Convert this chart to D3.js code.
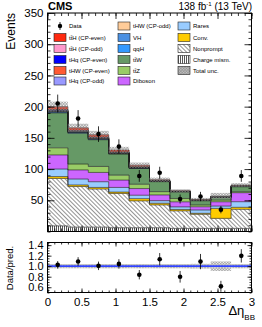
<!DOCTYPE html>
<html>
<head>
<meta charset="utf-8">
<script src="https://cdnjs.cloudflare.com/ajax/libs/d3/7.8.5/d3.min.js"></script>
<style>
  body { margin: 0; background: #fff; }
  svg { display: block; font-family: "Liberation Sans", Arial, sans-serif; }
</style>
</head>
<body>
<div id="container"></div>
<script>
let w = 262;
let h = 327;

// DATA
let binEdges = [0, 0.3, 0.6, 0.9, 1.2, 1.5, 1.8, 2.1, 2.4, 2.7, 3.0];
let dataCounts = [205, 181, 156, 136, 89, 94, 52, 56, 35, 89];

let chargeMism = [9, 7, 7, 6, 6, 6, 5, 5, 5, 5];
let nonprompt  = [76, 65, 61, 55, 43, 36.5, 28, 22.5, 16, 30.5];
let conv       = [3, 2.5, 2.6, 2.1, 3.6, 2.7, 2.3, 1.6, 16, 3.2];
let rares      = [12, 9.5, 9.1, 7.5, 5.5, 4.2, 4.1, 5.3, 3.7, 9];
let diboson    = [22.6, 14.6, 14.9, 11.7, 10.7, 9.1, 8.1, 5.2, 6.9, 14.4];
let ttZ        = [11.4, 9.4, 9.6, 8, 6.9, 5.3, 5.4, 2.8, 2.7, 1.6];
let ttW        = [56, 49.4, 42.8, 33.7, 25.2, 16, 10.6, 6.9, 4.3, 8];
let qqH        = [1.0, 0.9, 0.8, 0.7, 0.5, 0.3, 0.2, 0.2, 0.2, 0.3];
let VH         = [1.2, 1.0, 0.9, 0.7, 0.6, 0.4, 0.2, 0.3, 0.3, 0.3];
let tHWodd     = [0.3, 0.3, 0.2, 0.2, 0.2, 0.1, 0.1, 0.1, 0.1, 0.1];
let tHqodd     = [0.5, 0.4, 0.4, 0.3, 0.3, 0.2, 0.1, 0.1, 0.1, 0.2];
let tHWeven    = [0.5, 0.4, 0.4, 0.3, 0.2, 0.1, 0.1, 0.1, 0.1, 0.1];
let tHqeven    = [1.0, 0.8, 0.8, 0.6, 0.5, 0.3, 0.2, 0.2, 0.2, 0.2];
let ttHodd     = [1.0, 0.9, 0.8, 0.6, 0.5, 0.3, 0.1, 0.2, 0.2, 0.3];
let ttHeven    = [4.5, 3.9, 3.7, 3.0, 2.5, 1.5, 0.6, 1.0, 0.9, 1.2];

let relUnc = [0.04, 0.04, 0.04, 0.04, 0.04, 0.04, 0.04, 0.045, 0.09, 0.04];

let yTicksMain = [50, 100, 150, 200, 250, 300, 350];
let xTickLabels = [0, 0.5, 1, 1.5, 2, 2.5, 3];
let yTicksRatio = [0.6, 0.8, 1.0, 1.2, 1.4];

// stack, bottom to top
let procs = [
  {key: "cm",   vals: chargeMism, fill: "url(#pCM)"},
  {key: "np",   vals: nonprompt,  fill: "url(#pNP)"},
  {key: "conv", vals: conv,       fill: "#ffcc00"},
  {key: "rar",  vals: rares,      fill: "#99ccff"},
  {key: "dib",  vals: diboson,    fill: "#cc66ff"},
  {key: "ttz",  vals: ttZ,        fill: "#99cc66"},
  {key: "ttw",  vals: ttW,        fill: "#669966"},
  {key: "qqh",  vals: qqH,        fill: "#3399ff"},
  {key: "vh",   vals: VH,         fill: "#4a90e2"},
  {key: "thwo", vals: tHWodd,     fill: "#ffcc99"},
  {key: "thqo", vals: tHqodd,     fill: "#9999ff"},
  {key: "thwe", vals: tHWeven,    fill: "#ff5a33"},
  {key: "thqe", vals: tHqeven,    fill: "#0000ff"},
  {key: "ttho", vals: ttHodd,     fill: "#ff99cc"},
  {key: "tthe", vals: ttHeven,    fill: "#ff2a10"}
];

let rows = dataCounts.map((d, i) => {
  let r = {i: i};
  procs.forEach(p => r[p.key] = p.vals[i]);
  return r;
});

let viz = d3.select("#container").append("svg")
  .attr("width", w)
  .attr("height", h);

// patterns
let defs = viz.append("defs");
let pNP = defs.append("pattern").attr("id", "pNP").attr("patternUnits", "userSpaceOnUse")
  .attr("width", 3).attr("height", 3).attr("patternTransform", "rotate(-45)");
pNP.append("rect").attr("width", 3).attr("height", 3).attr("fill", "#fff");
pNP.append("line").attr("x1", 0.5).attr("x2", 0.5).attr("y1", 0).attr("y2", 3)
  .attr("stroke", "#777").attr("stroke-width", 0.8);

let pCM = defs.append("pattern").attr("id", "pCM").attr("patternUnits", "userSpaceOnUse")
  .attr("width", 2).attr("height", 2);
pCM.append("rect").attr("width", 2).attr("height", 2).attr("fill", "#fff");
pCM.append("line").attr("x1", 0.5).attr("x2", 0.5).attr("y1", 0).attr("y2", 2)
  .attr("stroke", "#444").attr("stroke-width", 0.9);

let pU = defs.append("pattern").attr("id", "pU").attr("patternUnits", "userSpaceOnUse")
  .attr("width", 2).attr("height", 2).attr("patternTransform", "rotate(45)");
pU.append("line").attr("x1", 0.5).attr("x2", 0.5).attr("y1", 0).attr("y2", 2)
  .attr("stroke", "#8a8a8a").attr("stroke-width", 0.6);
pU.append("line").attr("x1", 0).attr("x2", 2).attr("y1", 0.5).attr("y2", 0.5)
  .attr("stroke", "#8a8a8a").attr("stroke-width", 0.6);

// SCALES
let x = d3.scaleLinear().domain([0, 3]).range([47.5, 251.5]);
let y = d3.scaleLinear().domain([0, 350]).range([231.5, 13]);
let yr = d3.scaleLinear().domain([0.5, 1.45]).range([292.5, 242.5]);

defs.append("clipPath").attr("id", "clipMain").append("rect")
  .attr("x", x(0)).attr("y", y(350)).attr("width", x(3) - x(0)).attr("height", y(0) - y(350));
defs.append("clipPath").attr("id", "clipRatio").append("rect")
  .attr("x", x(0)).attr("y", yr(1.45)).attr("width", x(3) - x(0)).attr("height", yr(0.5) - yr(1.45));

// STACK
let series = d3.stack().keys(procs.map(p => p.key))(rows);

function stepPts(s) {
  let pts = [];
  s.forEach((d, i) => {
    pts.push({x: binEdges[i], y0: d[0], y1: d[1]});
    pts.push({x: binEdges[i + 1], y0: d[0], y1: d[1]});
  });
  return pts;
}
let areaMaker = d3.area().x(p => x(p.x)).y0(p => y(p.y0)).y1(p => y(p.y1));
let lineMaker = d3.line().x(p => x(p.x)).y(p => y(p.y1));

let main = viz.append("g").attr("clip-path", "url(#clipMain)");

main.selectAll(".layer").data(series).enter()
  .append("path")
    .attr("class", "layer")
    .attr("d", s => areaMaker(stepPts(s)))
    .attr("fill", (s, k) => procs[k].fill);

main.selectAll(".edge").data(series).enter()
  .append("path")
    .attr("class", "edge")
    .attr("d", s => lineMaker(stepPts(s)))
    .attr("fill", "none")
    .attr("stroke", "#1a1a1a")
    .attr("stroke-width", 0.6);

let totals = series[series.length - 1].map(d => d[1]);

// uncertainty band
main.selectAll(".unc").data(totals).enter()
  .append("rect")
    .attr("class", "unc")
    .attr("x", (d, i) => x(binEdges[i]))
    .attr("width", (d, i) => x(binEdges[i + 1]) - x(binEdges[i]))
    .attr("y", (d, i) => y(d * (1 + relUnc[i])))
    .attr("height", (d, i) => y(d * (1 - relUnc[i])) - y(d * (1 + relUnc[i])))
    .attr("fill", "url(#pU)");

// data points
let centers = dataCounts.map((d, i) => (binEdges[i] + binEdges[i + 1]) / 2);
main.selectAll(".err").data(dataCounts).enter()
  .append("line")
    .attr("x1", (d, i) => x(centers[i])).attr("x2", (d, i) => x(centers[i]))
    .attr("y1", d => y(d + Math.sqrt(d))).attr("y2", d => y(d - Math.sqrt(d)))
    .attr("stroke", "#000").attr("stroke-width", 0.8);
main.selectAll(".pt").data(dataCounts).enter()
  .append("circle")
    .attr("cx", (d, i) => x(centers[i])).attr("cy", d => y(d))
    .attr("r", 2.3).attr("fill", "#000");

// RATIO
let ratio = viz.append("g").attr("clip-path", "url(#clipRatio)");
ratio.selectAll(".runc").data(relUnc).enter()
  .append("rect")
    .attr("x", (d, i) => x(binEdges[i]))
    .attr("width", (d, i) => x(binEdges[i + 1]) - x(binEdges[i]))
    .attr("y", d => yr(1 + d))
    .attr("height", d => yr(1 - d) - yr(1 + d))
    .attr("fill", "url(#pU)");
ratio.append("line")
  .attr("x1", x(0)).attr("x2", x(3)).attr("y1", yr(1)).attr("y2", yr(1))
  .attr("stroke", "#3344ff").attr("stroke-width", 1.8);
ratio.selectAll(".rerr").data(dataCounts).enter()
  .append("line")
    .attr("x1", (d, i) => x(centers[i])).attr("x2", (d, i) => x(centers[i]))
    .attr("y1", (d, i) => yr((d + Math.sqrt(d)) / totals[i]))
    .attr("y2", (d, i) => yr((d - Math.sqrt(d)) / totals[i]))
    .attr("stroke", "#000").attr("stroke-width", 0.8);
ratio.selectAll(".rpt").data(dataCounts).enter()
  .append("circle")
    .attr("cx", (d, i) => x(centers[i])).attr("cy", (d, i) => yr(d / totals[i]))
    .attr("r", 2.3).attr("fill", "#000");

// AXES
function styleAxis(g, fs) {
  g.select(".domain").remove();
  g.selectAll("line").attr("stroke", "#000").attr("stroke-width", 0.8);
  g.selectAll("text").attr("font-size", fs).attr("fill", "#000")
    .attr("font-family", "Liberation Sans, Arial, sans-serif");
}
let minorY = d3.range(0, 351, 10);
let minorX = d3.range(0, 3.001, 0.1);

// main y
viz.append("g").attr("transform", `translate(${x(0)},0)`)
  .call(d3.axisLeft(y).tickValues(minorY).tickSize(-3).tickFormat(""))
  .call(g => styleAxis(g, 0));
viz.append("g").attr("transform", `translate(${x(0)},0)`)
  .call(d3.axisLeft(y).tickValues(yTicksMain).tickSize(-7).tickPadding(4))
  .call(g => styleAxis(g, 11.5));
viz.append("g").attr("transform", `translate(${x(3)},0)`)
  .call(d3.axisRight(y).tickValues(minorY).tickSize(-3).tickFormat(""))
  .call(g => styleAxis(g, 0));
viz.append("g").attr("transform", `translate(${x(3)},0)`)
  .call(d3.axisRight(y).tickValues(yTicksMain).tickSize(-7).tickFormat(""))
  .call(g => styleAxis(g, 0));

// main x (top & bottom, no labels)
[[d3.axisBottom, y(0)], [d3.axisTop, y(350)]].forEach(([ax, ty]) => {
  viz.append("g").attr("transform", `translate(0,${ty})`)
    .call(ax(x).tickValues(minorX).tickSize(-3).tickFormat(""))
    .call(g => styleAxis(g, 0));
  viz.append("g").attr("transform", `translate(0,${ty})`)
    .call(ax(x).tickValues(xTickLabels).tickSize(-6).tickFormat(""))
    .call(g => styleAxis(g, 0));
});

// ratio y
let minorYr = d3.range(0.5, 1.451, 0.05);
viz.append("g").attr("transform", `translate(${x(0)},0)`)
  .call(d3.axisLeft(yr).tickValues(minorYr).tickSize(-2).tickFormat(""))
  .call(g => styleAxis(g, 0));
viz.append("g").attr("transform", `translate(${x(0)},0)`)
  .call(d3.axisLeft(yr).tickValues(yTicksRatio).tickSize(-4).tickPadding(4).tickFormat(d3.format(".1f")))
  .call(g => styleAxis(g, 11));
viz.append("g").attr("transform", `translate(${x(3)},0)`)
  .call(d3.axisRight(yr).tickValues(minorYr).tickSize(-2).tickFormat(""))
  .call(g => styleAxis(g, 0));
viz.append("g").attr("transform", `translate(${x(3)},0)`)
  .call(d3.axisRight(yr).tickValues(yTicksRatio).tickSize(-4).tickFormat(""))
  .call(g => styleAxis(g, 0));

// ratio x
viz.append("g").attr("transform", `translate(0,${yr(0.5)})`)
  .call(d3.axisBottom(x).tickValues(minorX).tickSize(-2).tickFormat(""))
  .call(g => styleAxis(g, 0));
viz.append("g").attr("transform", `translate(0,${yr(0.5)})`)
  .call(d3.axisBottom(x).tickValues(xTickLabels).tickSize(-4).tickPadding(5).tickFormat(d3.format("~g")))
  .call(g => styleAxis(g, 11.5));
viz.append("g").attr("transform", `translate(0,${yr(1.45)})`)
  .call(d3.axisTop(x).tickValues(minorX).tickSize(-2).tickFormat(""))
  .call(g => styleAxis(g, 0));
viz.append("g").attr("transform", `translate(0,${yr(1.45)})`)
  .call(d3.axisTop(x).tickValues(xTickLabels).tickSize(-4).tickFormat(""))
  .call(g => styleAxis(g, 0));

// frames
viz.append("rect").attr("x", x(0)).attr("y", y(350)).attr("width", x(3) - x(0)).attr("height", y(0) - y(350))
  .attr("fill", "none").attr("stroke", "#000").attr("stroke-width", 1);
viz.append("rect").attr("x", x(0)).attr("y", yr(1.45)).attr("width", x(3) - x(0)).attr("height", yr(0.5) - yr(1.45))
  .attr("fill", "none").attr("stroke", "#000").attr("stroke-width", 1);

// TEXTS
viz.append("text").attr("x", 48).attr("y", 10).attr("font-size", 11).attr("font-weight", "bold").text("CMS");
let lumi = viz.append("text").attr("x", 252).attr("y", 10).attr("font-size", 10).attr("text-anchor", "end");
lumi.append("tspan").text("138 fb");
lumi.append("tspan").attr("dy", -4).attr("font-size", 6).text("-1");
lumi.append("tspan").attr("dy", 4).text(" (13 TeV)");

viz.append("text").attr("transform", "translate(15,13) rotate(-90)")
  .attr("text-anchor", "end").attr("font-size", 12).text("Events");
viz.append("text").attr("transform", "translate(13,268) rotate(-90)")
  .attr("text-anchor", "middle").attr("font-size", 9.5).text("Data/pred.");

let xl = viz.append("text").attr("x", 255).attr("y", 315).attr("text-anchor", "end").attr("font-size", 13);
xl.append("tspan").text("Δη");
xl.append("tspan").attr("dy", 5).attr("font-size", 8).text("BB");

// LEGEND
let legendCols = [
  [{t: "Data", data: true},
   {t: "tt\u0304H (CP-even)", f: "#ff2a10"},
   {t: "tt\u0304H (CP-odd)", f: "#ff99cc"},
   {t: "tHq (CP-even)", f: "#0000ff"},
   {t: "tHW (CP-even)", f: "#ff5a33"},
   {t: "tHq (CP-odd)", f: "#9999ff"}],
  [{t: "tHW (CP-odd)", f: "#ffcc99"},
   {t: "VH", f: "#4a90e2"},
   {t: "qqH", f: "#3399ff"},
   {t: "tt\u0304W", f: "#669966"},
   {t: "tt\u0304Z", f: "#99cc66"},
   {t: "Diboson", f: "#cc66ff"}],
  [{t: "Rares", f: "#99ccff"},
   {t: "Conv.", f: "#ffcc00"},
   {t: "Nonprompt", f: "url(#pNP)"},
   {t: "Charge mism.", f: "url(#pCM)"},
   {t: "Total unc.", f: "url(#pU)", unc: true}]
];
let colX = [54, 118, 178];
let rowY = [26, 37.5, 48.5, 59.5, 70.5, 81];

legendCols.forEach((col, c) => {
  col.forEach((e, r) => {
    let g = viz.append("g").attr("transform", `translate(${colX[c]},${rowY[r]})`);
    if (e.data) {
      g.append("line").attr("x1", 6).attr("x2", 6).attr("y1", -4).attr("y2", 4)
        .attr("stroke", "#000").attr("stroke-width", 0.8);
      g.append("circle").attr("cx", 6).attr("cy", 0).attr("r", 2.2).attr("fill", "#000");
    } else {
      if (e.unc) g.append("rect").attr("x", 0).attr("y", -4).attr("width", 12).attr("height", 8).attr("fill", "#c8c8c8");
      g.append("rect").attr("x", 0).attr("y", -4).attr("width", 12).attr("height", 8)
        .attr("fill", e.f).attr("stroke", "#222").attr("stroke-width", 0.6);
    }
    g.append("text").attr("x", 15).attr("y", 2.2).attr("font-size", 6).text(e.t);
  });
});
</script>
</body>
</html>
